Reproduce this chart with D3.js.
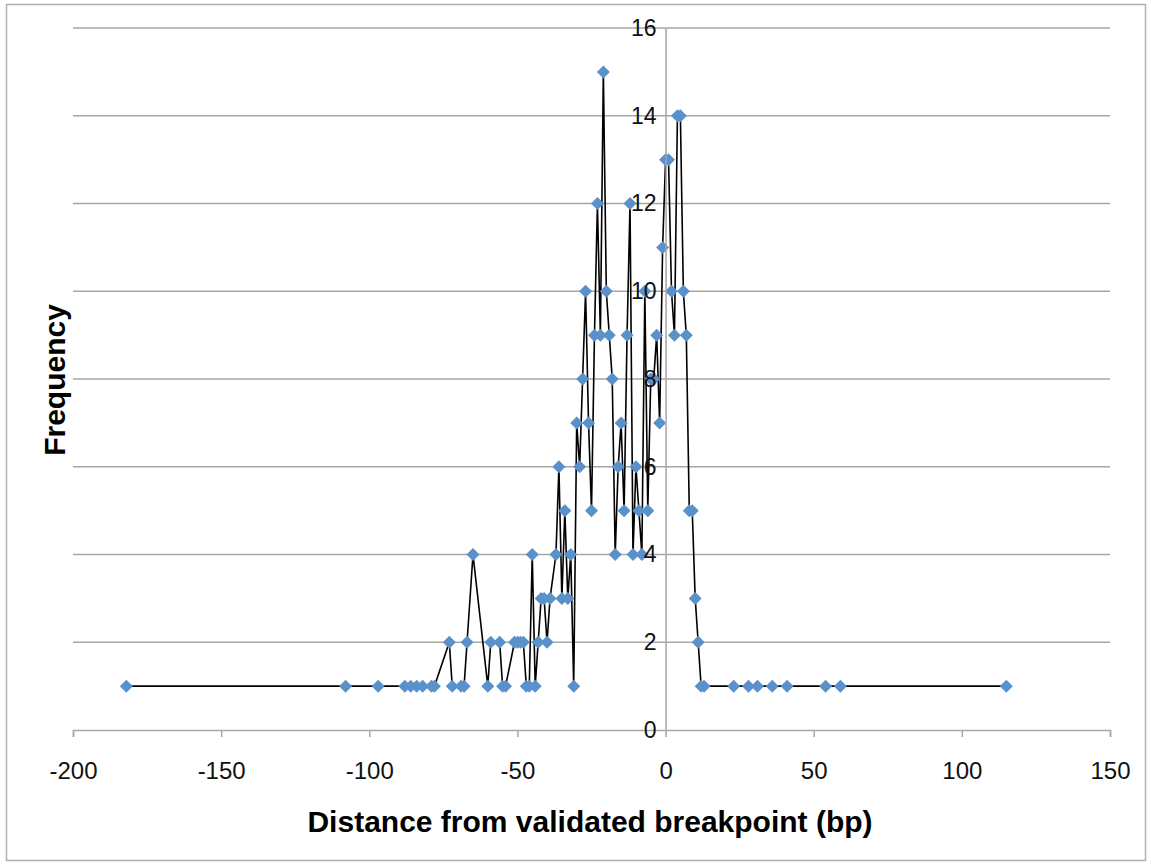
<!DOCTYPE html>
<html>
<head>
<meta charset="utf-8">
<script src="https://cdn.jsdelivr.net/npm/d3@7"></script>
<style>
  body { margin: 0; background: #fff; }
  text { font-family: "Liberation Sans", Arial, sans-serif; }
</style>
</head>
<body>
<svg id="chart" width="1151" height="865"></svg>
<script>
// distance from breakpoint (bp) and how often it was seen
const distances = [
  -182, -108, -97, -88, -86, -84, -82, -79, -78,
  -73, -72, -69, -68, -67, -65, -60, -59, -56, -55, -54,
  -51, -50, -49, -48, -47, -46, -45, -44, -43, -42, -41, -40, -39,
  -37, -36, -35, -34, -33, -32, -31, -30, -29, -28, -27, -26, -25,
  -24, -23, -22, -21, -20, -19, -18, -17, -16, -15, -14, -13, -12,
  -11, -10, -9, -8, -7, -6, -5, -4, -3, -2, -1, 0, 1, 2, 3, 4, 5,
  6, 7, 8, 9, 10, 11, 12, 13, 23, 28, 31, 36, 41, 54, 59, 115
];
const frequency = [
  1, 1, 1, 1, 1, 1, 1, 1, 1,
  2, 1, 1, 1, 2, 4, 1, 2, 2, 1, 1,
  2, 2, 2, 2, 1, 1, 4, 1, 2, 3, 3, 2, 3,
  4, 6, 3, 5, 3, 4, 1, 7, 6, 8, 10, 7, 5,
  9, 12, 9, 15, 10, 9, 8, 4, 6, 7, 5, 9, 12,
  4, 6, 5, 4, 10, 5, 8, 8, 9, 7, 11, 13, 13, 10, 9, 14, 14,
  10, 9, 5, 5, 3, 2, 1, 1, 1, 1, 1, 1, 1, 1, 1, 1
];
const xTicks = [-200, -150, -100, -50, 0, 50, 100, 150];
const yTicks = [0, 2, 4, 6, 8, 10, 12, 14, 16];

const points = distances.map((d, i) => ({ x: d, y: frequency[i] }));

const svg = d3.select("#chart");
const x = d3.scaleLinear().domain([-200, 150]).range([73, 1110]);
const y = d3.scaleLinear().domain([0, 16]).range([730, 28]);

// outer frame
svg.append("rect")
  .attr("x", 6.5).attr("y", 4.5)
  .attr("width", 1139).attr("height", 856)
  .attr("fill", "none").attr("stroke", "#b0b0b0").attr("stroke-width", 1.5);

// horizontal gridlines
svg.append("g")
  .selectAll("line")
  .data(yTicks.filter(t => t > 0))
  .join("line")
  .attr("x1", x(-200)).attr("x2", x(150))
  .attr("y1", d => y(d)).attr("y2", d => y(d))
  .attr("stroke", "#a6a6a6").attr("stroke-width", 1.5);

// x axis at y = 0
const xAxis = d3.axisBottom(x).tickValues(xTicks).tickSize(7)
  .tickPadding(25).tickFormat(d => String(d));
const gx = svg.append("g").attr("transform", `translate(0,${y(0)})`).call(xAxis);
gx.select(".domain").attr("stroke", "#a6a6a6").attr("stroke-width", 1.5);
gx.selectAll(".tick line").attr("stroke", "#a6a6a6").attr("stroke-width", 1.5);
gx.selectAll("text").attr("font-size", 24).attr("fill", "#111")
  .attr("font-family", "Liberation Sans, Arial, sans-serif");

// y axis at x = 0
const yAxis = d3.axisLeft(y).tickValues(yTicks).tickSize(0).tickPadding(9);
const gy = svg.append("g").attr("transform", `translate(${x(0)},0)`).call(yAxis);
gy.select(".domain").attr("stroke", "#a6a6a6").attr("stroke-width", 1.5);
gy.selectAll("text").attr("font-size", 23).attr("fill", "#111")
  .attr("font-family", "Liberation Sans, Arial, sans-serif");

// the series
const line = d3.line().x(d => x(d.x)).y(d => y(d.y));
svg.append("path")
  .datum(points)
  .attr("d", line)
  .attr("fill", "none")
  .attr("stroke", "#000")
  .attr("stroke-width", 1.6);

svg.append("g")
  .selectAll("path")
  .data(points)
  .join("path")
  .attr("transform", d => `translate(${x(d.x)},${y(d.y)})`)
  .attr("d", "M0,-6.5L6.5,0L0,6.5L-6.5,0Z")
  .attr("fill", "#5b91cb");

// y tick labels sit on top of the markers, like the original
gy.raise();

// axis titles
svg.append("text")
  .attr("x", 590).attr("y", 832)
  .attr("text-anchor", "middle")
  .attr("font-size", 30).attr("font-weight", "bold")
  .text("Distance from validated breakpoint (bp)");

svg.append("text")
  .attr("transform", "translate(65,380) rotate(-90)")
  .attr("text-anchor", "middle")
  .attr("font-size", 30).attr("font-weight", "bold")
  .text("Frequency");
</script>
</body>
</html>
